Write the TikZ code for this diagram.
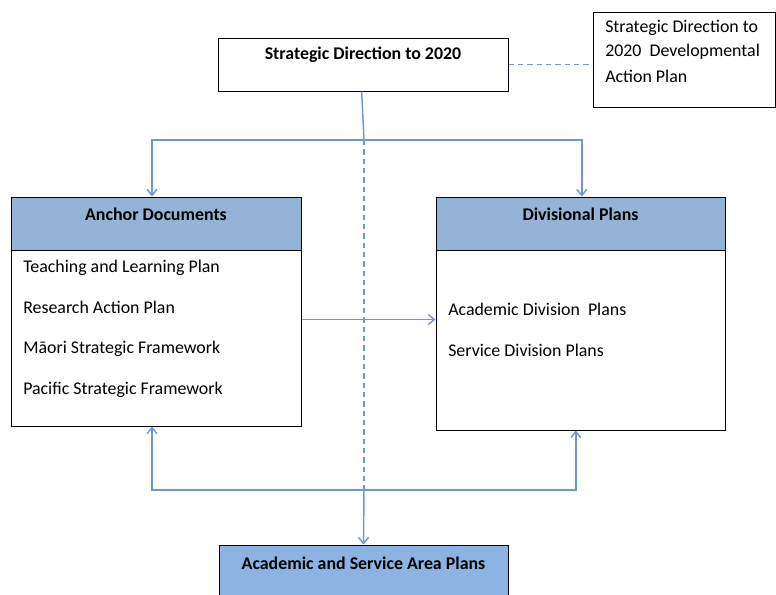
\documentclass[tikz,border=0pt]{standalone}
\usepackage{fontspec}
\setmainfont{Carlito}
\usepackage{tikz}
\usetikzlibrary{arrows.meta}
\definecolor{linkblue}{HTML}{6F98D1}
\definecolor{headblue}{HTML}{95B3D7}
\definecolor{areablue}{HTML}{8DB3E2}
\tikzset{
  box/.style={draw=black, line width=0.75pt, rectangle, inner sep=0pt},
  head/.style={box, fill=headblue},
  link/.style={draw=linkblue, line width=1.1pt},
  linkdash/.style={link, dash pattern=on 4pt off 3pt},
  tip/.style={-{Straight Barb[length=4.5pt,width=7.5pt]}},
  item/.style={anchor=west, inner sep=0pt, font=\fontsize{13.4}{16}\selectfont},
  title/.style={inner sep=0pt, font=\fontsize{13.4}{16}\selectfont\bfseries}
}
\begin{document}
\begin{tikzpicture}[x=0.75pt, y=-0.75pt]
  \useasboundingbox (0,0) rectangle (776,594);

  % Draw the top boxes
  \node[box, minimum width=217.5pt, minimum height=39.75pt] (sd) at (363,64.5) {};
  \node[title] (sdtext) at (363,55) {Strategic Direction to 2020};
  \node[box, minimum width=136.5pt, minimum height=71.25pt] (sdap) at (684,59.5) {};
  \node[item] (sdapa) at (605,28) {Strategic Direction to};
  \node[item] (sdapb) at (605,52) {2020\ \ Developmental};
  \node[item] (sdapc) at (605,76) {Action Plan};

  % Draw the Anchor Documents box
  \node[box, minimum width=217.5pt, minimum height=171.75pt] (ad) at (156,311.5) {};
  \node[head, minimum width=217.5pt, minimum height=39.75pt] (adhead) at (156,223.5) {};
  \node[title] (adtitle) at (156,214) {Anchor Documents};
  \node[item] (tlp) at (23,268) {Teaching and Learning Plan};
  \node[item] (rap) at (23,307) {Research Action Plan};
  \node[item] (msf) at (23,349) {Māori Strategic Framework};
  \node[item] (psf) at (23,390) {Pacific Strategic Framework};

  % Draw the Divisional Plans box
  \node[box, minimum width=216.75pt, minimum height=174.75pt] (dp) at (580.5,313.5) {};
  \node[head, minimum width=216.75pt, minimum height=39.75pt] (dphead) at (580.5,223.5) {};
  \node[title] (dptitle) at (580.5,214) {Divisional Plans};
  \node[item] (adp) at (448,309) {Academic Division\ \ Plans};
  \node[item] (sdp) at (448,350) {Service Division Plans};

  % Draw the bottom box
  \node[box, fill=areablue, minimum width=216.75pt, minimum height=41.25pt] (asap) at (363.5,572.5) {};
  \node[title] (asaptext) at (363.5,563) {Academic and Service Area Plans};

  % Junction points
  \coordinate (split) at (364,140);
  \coordinate (join) at (364,490);

  % Draw the connectors
  \draw[linkdash] (sd.east) -- (sd.east -| sdap.west);
  \draw[link] ([xshift=-1pt]sd.south) -- (split);
  \draw[link, tip] (split) -| ([xshift=-3pt]adhead.north);
  \draw[link, tip] (split) -| ([xshift=1pt]dphead.north);
  \draw[linkdash] (split) -- (join);
  \draw[link, tip] ([yshift=-6pt]ad.east) -- ([yshift=-6pt]ad.east -| dp.west);
  \draw[link, tip] (join) -| ([xshift=-3pt]ad.south);
  \draw[link, tip] (join) -| ([xshift=-3.5pt]dp.south);
  \draw[link, tip] (join) -- (asap.north);
\end{tikzpicture}
\end{document}
